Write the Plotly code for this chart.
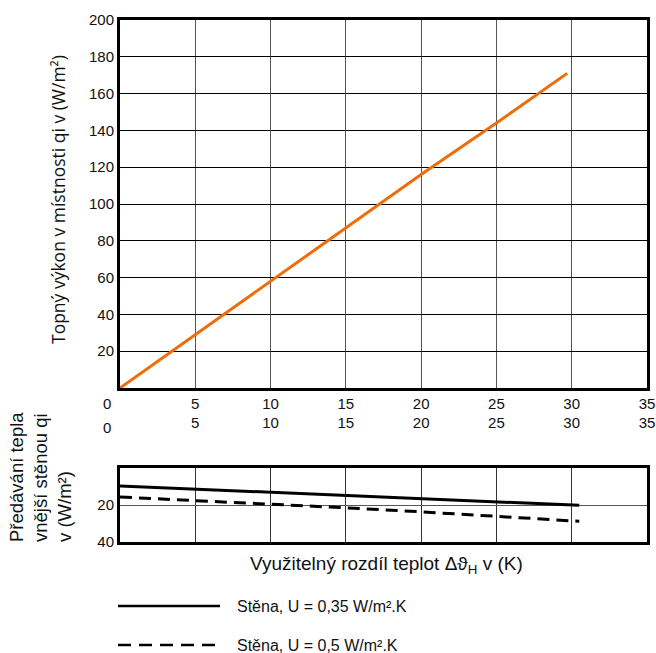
import plotly.graph_objects as go

# ---- data ----
x_room = [0, 5, 10, 15, 20, 25, 29.7]
q_room = [0, 29, 58, 87, 116, 144, 171]

x_wall = [0, 5, 10, 15, 20, 25, 30.5]
q_wall_035 = [9.7, 11.4, 13.3, 14.8, 16.4, 18.2, 20.2]
q_wall_05 = [15.7, 17.5, 19.6, 21.5, 23.7, 26.0, 28.8]

x_ticks = [5, 10, 15, 20, 25, 30, 35]
y_ticks_top = [20, 40, 60, 80, 100, 120, 140, 160, 180, 200]
y_ticks_bottom = [20, 40]

legend_labels = ["Stěna, U = 0,35 W/m².K", "Stěna, U = 0,5 W/m².K"]

W, H = 656, 653
def px(v):
    return v / W
def py(v):
    return 1 - v / H

TICKFONT = dict(family="Liberation Sans Narrow, Arial Narrow, sans-serif", size=15, color="#111")
TEXTFONT = dict(family="Liberation Sans, Arial, sans-serif", size=16, color="#111")

fig = go.Figure()
fig.add_trace(go.Scatter(x=x_room, y=q_room, mode="lines",
                         line=dict(color="#EF6C0A", width=3), showlegend=False,
                         xaxis="x", yaxis="y"))
fig.add_trace(go.Scatter(x=x_wall, y=q_wall_035, mode="lines",
                         line=dict(color="black", width=3), showlegend=False,
                         xaxis="x2", yaxis="y2"))
fig.add_trace(go.Scatter(x=x_wall, y=q_wall_05, mode="lines",
                         line=dict(color="black", width=3, dash="12px,7px"), showlegend=False,
                         xaxis="x2", yaxis="y2"))

axis_common = dict(showline=True, linewidth=3, linecolor="black", mirror=True,
                   ticks="", zeroline=False, automargin=False, tickfont=TICKFONT)

fig.update_layout(
    width=W, height=H,
    margin=dict(l=0, r=0, t=0, b=0),
    paper_bgcolor="white", plot_bgcolor="white",
    showlegend=False,
    xaxis=dict(domain=[px(120), px(647)], range=[0, 35], tickvals=x_ticks,
               showgrid=True, gridcolor="#555", gridwidth=1, anchor="y", **axis_common),
    yaxis=dict(domain=[py(388), py(20)], range=[0, 200], tickvals=y_ticks_top,
               showgrid=True, gridcolor="black", gridwidth=1, anchor="x", **axis_common),
    xaxis2=dict(domain=[px(120), px(647)], range=[0, 35], tickvals=x_ticks, side="top",
                ticklabelstandoff=31,
                showgrid=True, gridcolor="#333", gridwidth=1, anchor="y2", **axis_common),
    yaxis2=dict(domain=[py(542), py(468)], range=[40, 0], tickvals=y_ticks_bottom,
                showgrid=True, gridcolor="#555", gridwidth=1, anchor="x2", **axis_common),
)

ann = []
# origin labels
ann.append(dict(text="0", x=px(107), y=py(403), xref="paper", yref="paper",
                showarrow=False, font=TICKFONT, xanchor="center", yanchor="middle"))
ann.append(dict(text="0", x=px(107), y=py(427), xref="paper", yref="paper",
                showarrow=False, font=TICKFONT, xanchor="center", yanchor="middle"))
# top y title
ann.append(dict(text="Topný výkon v místnosti qi v (W/m²)", x=px(58), y=py(200),
                xref="paper", yref="paper", showarrow=False, textangle=-90,
                font=dict(family="Open Sans, sans-serif", size=17.5, color="#111"),
                xanchor="center", yanchor="middle"))
# bottom y title
ann.append(dict(text="Předávání tepla<br>vnější stěnou qi<br>v (W/m²)", x=px(40), y=py(477),
                xref="paper", yref="paper", showarrow=False, textangle=-90,
                font=dict(family="Liberation Sans, Arial, sans-serif", size=18.5, color="#111"),
                xanchor="center", yanchor="middle", align="left"))
# bottom x title
ann.append(dict(text="Využitelný rozdíl teplot Δϑ<sub>H</sub> v (K)", x=px(386), y=py(565),
                xref="paper", yref="paper", showarrow=False,
                font=dict(family="Liberation Sans Narrow, Arial Narrow, sans-serif", size=19, color="#111"),
                xanchor="center", yanchor="middle"))
# legend texts
for i, lab in enumerate(legend_labels):
    ann.append(dict(text=lab, x=px(235), y=py(606 + 39 * i), xref="paper", yref="paper",
                    showarrow=False, font=TEXTFONT, xanchor="left", yanchor="middle"))
fig.update_layout(annotations=ann)

# legend keys
fig.add_shape(type="line", xref="paper", yref="paper", x0=px(118), x1=px(220),
              y0=py(606), y1=py(606), line=dict(color="black", width=2.5))
fig.add_shape(type="line", xref="paper", yref="paper", x0=px(118), x1=px(222),
              y0=py(645), y1=py(645), line=dict(color="black", width=2.5, dash="13px,8px"))

fig.write_html("out.html", config={"displayModeBar": False},
               post_script="document.body.style.margin='0px';document.body.style.overflow='hidden';")
